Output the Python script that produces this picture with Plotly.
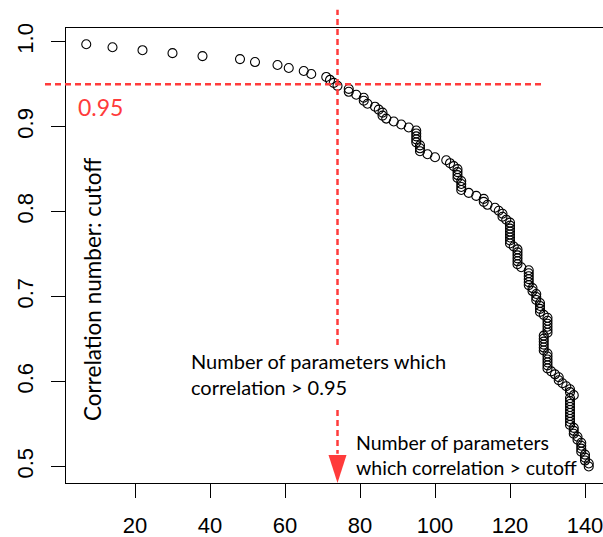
import plotly.graph_objects as go

# Cutoff values (y) and number of parameters with correlation > cutoff (x)
cutoff = [0.997, 0.9935, 0.990, 0.9865, 0.983, 0.9795, 0.976, 0.9725, 0.969, 0.9655,
          0.962, 0.9585, 0.955, 0.9515, 0.948, 0.9445, 0.941, 0.9375, 0.934, 0.9305,
          0.927, 0.9235, 0.920, 0.9165, 0.913, 0.9095, 0.906, 0.9025, 0.899, 0.8955,
          0.892, 0.8885, 0.885, 0.8815, 0.878, 0.8745, 0.871, 0.8675, 0.864, 0.8605,
          0.857, 0.8535, 0.850, 0.8465, 0.843, 0.8395, 0.836, 0.8325, 0.829, 0.8255,
          0.822, 0.8185, 0.815, 0.8115, 0.808, 0.8045, 0.801, 0.7975, 0.794, 0.7905,
          0.787, 0.7835, 0.780, 0.7765, 0.773, 0.7695, 0.766, 0.7625, 0.759, 0.7555,
          0.752, 0.7485, 0.745, 0.7415, 0.738, 0.7345, 0.731, 0.7275, 0.724, 0.7205,
          0.717, 0.7135, 0.710, 0.7065, 0.703, 0.6995, 0.696, 0.6925, 0.689, 0.6855,
          0.682, 0.6785, 0.675, 0.6715, 0.668, 0.6645, 0.661, 0.6575, 0.654, 0.6505,
          0.647, 0.6435, 0.640, 0.6365, 0.633, 0.6295, 0.626, 0.6225, 0.619, 0.6155,
          0.612, 0.6085, 0.605, 0.6015, 0.598, 0.5945, 0.591, 0.5875, 0.584, 0.5805,
          0.577, 0.5735, 0.570, 0.5665, 0.563, 0.5595, 0.556, 0.5525, 0.549, 0.5455,
          0.542, 0.5385, 0.535, 0.5315, 0.528, 0.5245, 0.521, 0.5175, 0.514, 0.5105,
          0.507, 0.5035, 0.500]

n_params = [7, 14, 22, 30, 38, 48, 52, 58, 61, 65,
            67, 71, 72, 73, 74, 77, 77, 79, 81, 81,
            82, 84, 85, 86, 86, 87, 89, 91, 93, 95,
            95, 95, 95, 95, 96, 96, 96, 98, 100, 103,
            104, 105, 106, 106, 106, 106, 107, 107, 107, 107,
            109, 111, 113, 113, 114, 116, 117, 118, 118, 119,
            120, 120, 120, 120, 120, 120, 120, 120, 121, 122,
            122, 122, 122, 122, 122, 123, 125, 125, 125, 125,
            125, 125, 126, 126, 127, 127, 127, 128, 128, 128,
            128, 129, 130, 130, 130, 130, 130, 130, 129, 129,
            129, 129, 129, 129, 130, 130, 130, 130, 130, 130,
            131, 132, 133, 133, 134, 135, 136, 136, 137, 136,
            136, 136, 136, 136, 136, 136, 136, 136, 136, 137,
            137, 137, 138, 138, 139, 139, 139, 139, 140, 140,
            140, 141, 141]

x_ticks = [20, 40, 60, 80, 100, 120, 140]
y_ticks = [0.5, 0.6, 0.7, 0.8, 0.9, 1.0]
y_tick_labels = ["0.5", "0.6", "0.7", "0.8", "0.9", "1.0"]

threshold = 0.95
n_at_threshold = 74

X_RANGE = [1.6, 144.8]
Y_RANGE = [0.4806, 1.0161]
RED = "#FF3B3B"

def xpaper(v):
    return (v - X_RANGE[0]) / (X_RANGE[1] - X_RANGE[0])

def ypaper(v):
    return (v - Y_RANGE[0]) / (Y_RANGE[1] - Y_RANGE[0])

fig = go.Figure()
fig.add_trace(go.Scatter(
    x=n_params, y=cutoff, mode="markers",
    marker=dict(symbol="circle-open", size=9, color="black", line=dict(width=1.1, color="black")),
    showlegend=False, hoverinfo="x+y"))

axis_font = dict(family="Liberation Sans, Arial, sans-serif", size=22, color="black")

fig.update_layout(
    width=603, height=537,
    margin=dict(l=66, r=0, t=28, b=54, autoexpand=False),
    paper_bgcolor="white", plot_bgcolor="white",
    xaxis=dict(range=X_RANGE, tickvals=x_ticks, ticks="outside", ticklen=14, tickwidth=1.3,
               tickcolor="black", showline=True, linecolor="black", linewidth=1.3, mirror=True,
               showgrid=False, zeroline=False, tickfont=axis_font, ticklabelstandoff=8,
               ticklabeloverflow="allow", automargin=False),
    yaxis=dict(range=Y_RANGE, tickvals=y_ticks, ticktext=y_tick_labels, ticks="outside",
               ticklen=14, tickwidth=1.3, tickcolor="black", showline=True, linecolor="black",
               linewidth=1.3, mirror=False, showgrid=False, zeroline=False, tickangle=-90,
               tickfont=axis_font, ticklabelstandoff=9, ticklabeloverflow="allow",
               automargin=False),
)

# horizontal threshold line (extends left past the axis)
fig.add_shape(type="line", xref="paper", yref="y", x0=xpaper(-4), x1=xpaper(129.3),
              y0=threshold, y1=threshold, line=dict(color=RED, width=2.5, dash="6px,4px"))
# vertical line at number of parameters for threshold
fig.add_shape(type="line", xref="x", yref="paper", x0=n_at_threshold, x1=n_at_threshold,
              y0=ypaper(0.643), y1=1.04, line=dict(color=RED, width=2.5, dash="6px,4px"))
# lower arrow segment
fig.add_shape(type="line", xref="x", yref="y", x0=n_at_threshold, x1=n_at_threshold,
              y0=0.5665, y1=0.515, line=dict(color=RED, width=2.5, dash="6px,4px"))
fig.add_shape(type="path", xref="x", yref="y",
              path=f"M {n_at_threshold-2.4},0.5135 L {n_at_threshold+2.4},0.5135 L {n_at_threshold},{Y_RANGE[0]} Z",
              fillcolor=RED, line=dict(color=RED, width=0))

txt_font = dict(family="Lato, sans-serif", size=20, color="black")
fig.add_annotation(x=10.7, y=0.9235, xref="x", yref="y", text="0.95", showarrow=False,
                   font=dict(family="Lato, sans-serif", size=23, color=RED), xanchor="center", yanchor="middle")
fig.add_annotation(x=8.5, y=0.7088, xref="x", yref="y", text="Correlation number: cutoff",
                   textangle=-90, showarrow=False, font=dict(family="Lato, sans-serif", size=22.5, color="black"),
                   xanchor="center", yanchor="middle")
fig.add_annotation(x=34.5, y=0.6088, xref="x", yref="y",
                   text="Number of parameters which<br>correlation > 0.95", align="left",
                   showarrow=False, font=txt_font, xanchor="left", yanchor="middle")
fig.add_annotation(x=78.3, y=0.5140, xref="x", yref="y",
                   text="Number of parameters<br>which correlation > cutoff", align="left",
                   showarrow=False, font=dict(family="Lato, sans-serif", size=19.5, color="black"),
                   xanchor="left", yanchor="middle")

# remove the default 8px page margin so the figure fills the window exactly
fig.write_html("out.html", config={"displayModeBar": False},
               post_script="document.body.style.margin='0';document.body.style.overflow='hidden';")
